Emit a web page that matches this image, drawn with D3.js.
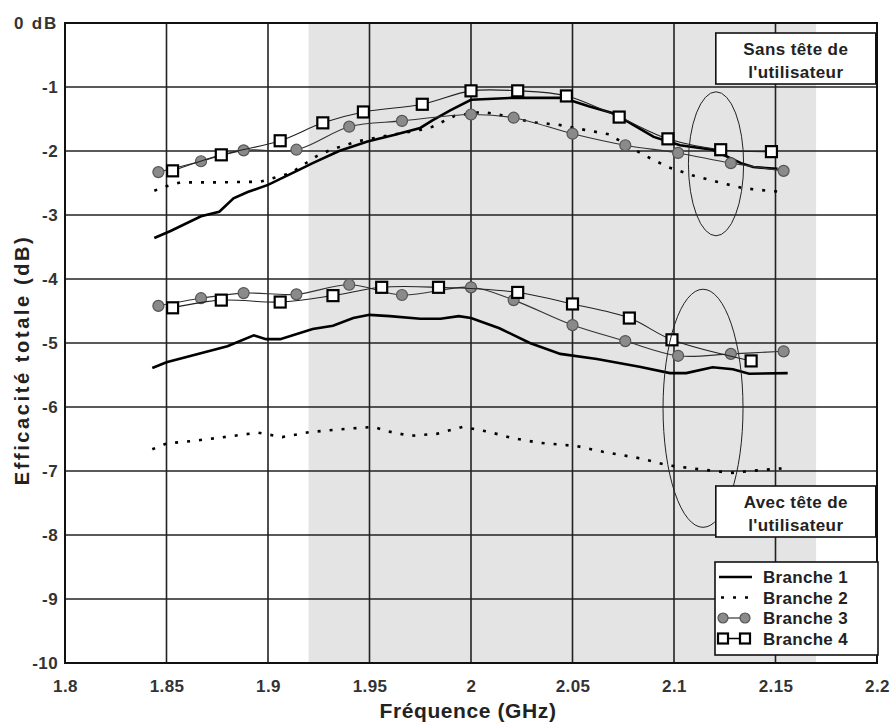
<!DOCTYPE html>
<html><head><meta charset="utf-8">
<script src="https://cdn.jsdelivr.net/npm/d3@7/dist/d3.min.js"></script>
<style>body{margin:0;background:#fff}svg{display:block;font-family:"Liberation Sans",Arial,sans-serif}</style>
</head><body><svg id="c" width="895" height="725"></svg>
<script>
// ---- data ----
const xTicks = [1.8,1.85,1.9,1.95,2,2.05,2.1,2.15,2.2];
const xTickLabels = ["1.8","1.85","1.9","1.95","2","2.05","2.1","2.15","2.2"];
const yTicks = [0,-1,-2,-3,-4,-5,-6,-7,-8,-9,-10];
const yTickLabels = ["0 dB","-1","-2","-3","-4","-5","-6","-7","-8","-9","-10"];
const bandRange = [1.92, 2.17];
const seriesNames = ["Branche 1","Branche 2","Branche 3","Branche 4"];

// Sans tête de l'utilisateur
const b1Free = [[1.844,-3.36],[1.852,-3.25],[1.867,-3.02],[1.876,-2.95],[1.883,-2.74],[1.89,-2.64],[1.9,-2.53],[1.915,-2.3],[1.922,-2.19],[1.935,-2.0],[1.949,-1.85],[1.962,-1.75],[1.975,-1.64],[1.981,-1.52],[1.99,-1.36],[2.0,-1.2],[2.02,-1.17],[2.045,-1.17],[2.058,-1.3],[2.07,-1.41],[2.09,-1.78],[2.103,-1.91],[2.119,-1.98],[2.133,-2.19],[2.139,-2.25],[2.151,-2.28]];
const b2Free = [[1.844,-2.62],[1.85,-2.55],[1.857,-2.49],[1.875,-2.49],[1.896,-2.48],[1.911,-2.35],[1.924,-2.08],[1.931,-1.98],[1.944,-1.85],[1.955,-1.78],[1.975,-1.67],[1.981,-1.62],[1.992,-1.45],[2.005,-1.39],[2.012,-1.42],[2.03,-1.55],[2.043,-1.59],[2.056,-1.67],[2.068,-1.74],[2.085,-2.06],[2.097,-2.25],[2.109,-2.38],[2.121,-2.48],[2.134,-2.58],[2.146,-2.62],[2.153,-2.64]];
const b3Free = [[1.846,-2.33],[1.867,-2.16],[1.888,-1.99],[1.914,-1.98],[1.940,-1.62],[1.966,-1.53],[2.0,-1.43],[2.021,-1.48],[2.05,-1.73],[2.076,-1.91],[2.102,-2.03],[2.128,-2.19],[2.154,-2.31]];
const b4Free = [[1.853,-2.31],[1.877,-2.06],[1.906,-1.84],[1.927,-1.56],[1.947,-1.39],[1.976,-1.27],[2.0,-1.06],[2.023,-1.06],[2.047,-1.14],[2.073,-1.47],[2.097,-1.81],[2.123,-1.98],[2.148,-2.01]];

// Avec tête de l'utilisateur
const b1Head = [[1.843,-5.39],[1.85,-5.3],[1.88,-5.05],[1.893,-4.88],[1.899,-4.94],[1.906,-4.94],[1.922,-4.78],[1.932,-4.73],[1.942,-4.61],[1.95,-4.56],[1.96,-4.58],[1.975,-4.62],[1.985,-4.62],[1.994,-4.58],[2.0,-4.61],[2.014,-4.77],[2.029,-5.0],[2.044,-5.17],[2.062,-5.25],[2.083,-5.37],[2.098,-5.47],[2.106,-5.47],[2.119,-5.38],[2.129,-5.41],[2.137,-5.48],[2.156,-5.47]];
const b2Head = [[1.843,-6.66],[1.85,-6.57],[1.863,-6.53],[1.876,-6.48],[1.895,-6.4],[1.907,-6.47],[1.921,-6.39],[1.939,-6.34],[1.952,-6.31],[1.959,-6.38],[1.97,-6.45],[1.983,-6.42],[1.996,-6.31],[2.009,-6.39],[2.021,-6.49],[2.034,-6.56],[2.052,-6.61],[2.065,-6.7],[2.083,-6.8],[2.097,-6.91],[2.109,-6.96],[2.128,-7.03],[2.141,-6.99],[2.153,-6.96]];
const b3Head = [[1.846,-4.42],[1.867,-4.30],[1.888,-4.22],[1.914,-4.24],[1.940,-4.09],[1.966,-4.25],[2.0,-4.13],[2.021,-4.33],[2.05,-4.72],[2.076,-4.97],[2.102,-5.20],[2.128,-5.17],[2.154,-5.13]];
const b4Head = [[1.853,-4.45],[1.877,-4.33],[1.906,-4.36],[1.932,-4.26],[1.956,-4.13],[1.984,-4.13],[2.023,-4.21],[2.05,-4.39],[2.078,-4.61],[2.099,-4.95],[2.138,-5.28]];

const annotations = [
  {lines:["Sans tête de","l'utilisateur"], x:2.160, y:-0.297},
  {lines:["Avec tête de","l'utilisateur"], x:2.160, y:-7.375}
];
const ellipses = [ {cx:2.1207, cy:-2.2, rx:0.0136, ry:1.125}, {cx:2.1143, cy:-6.02, rx:0.0197, ry:1.86} ];

// ---- drawing ----
const svg = d3.select("#c");
const m = {l:65, r:877, t:23, b:663};
const x = d3.scaleLinear().domain([1.8,2.2]).range([m.l,m.r]);
const y = d3.scaleLinear().domain([-10,0]).range([m.b,m.t]);

svg.append("rect").attr("x",x(bandRange[0])).attr("y",m.t).attr("width",x(bandRange[1])-x(bandRange[0])).attr("height",m.b-m.t).attr("fill","#e4e4e4");

// grid
svg.append("g").selectAll("line").data(xTicks.slice(1,-1)).join("line")
  .attr("x1",d=>x(d)).attr("x2",d=>x(d)).attr("y1",m.t).attr("y2",m.b).attr("stroke","#222").attr("stroke-width",1.6);
svg.append("g").selectAll("line").data(yTicks.slice(1,-1)).join("line")
  .attr("y1",d=>y(d)).attr("y2",d=>y(d)).attr("x1",m.l).attr("x2",m.r).attr("stroke","#222").attr("stroke-width",1.6);
svg.append("rect").attr("x",m.l).attr("y",m.t).attr("width",m.r-m.l).attr("height",m.b-m.t).attr("fill","none").attr("stroke","#111").attr("stroke-width",2);

// axes labels via d3 axes
const xa = svg.append("g").attr("transform",`translate(0,${m.b})`)
  .call(d3.axisBottom(x).tickValues(xTicks).tickFormat((d,i)=>xTickLabels[i]).tickSize(0).tickPadding(17));
const ya = svg.append("g").attr("transform",`translate(${m.l},0)`)
  .call(d3.axisLeft(y).tickValues(yTicks).tickFormat((d,i)=>yTickLabels[i]).tickSize(0).tickPadding(7));
[xa,ya].forEach(a=>{a.select(".domain").remove();a.selectAll("text").attr("font-size",17).attr("letter-spacing",0.4).attr("font-weight","bold").attr("fill","#333").attr("font-family","Liberation Sans, Arial, sans-serif");});
ya.selectAll("text").filter((d,i)=>i===0).attr("letter-spacing",1.8);

svg.append("text").attr("x",468).attr("y",718).attr("text-anchor","middle").attr("font-size",21).attr("letter-spacing",0.6).attr("font-weight","bold").attr("fill","#222").text("Fréquence (GHz)");
svg.append("text").attr("transform","translate(29,360) rotate(-90)").attr("text-anchor","middle").attr("font-size",20).attr("letter-spacing",2.6).attr("font-weight","bold").attr("fill","#222").text("Efficacité totale (dB)");

const lineLin = d3.line().x(d=>x(d[0])).y(d=>y(d[1]));
const lineSm = d3.line().x(d=>x(d[0])).y(d=>y(d[1])).curve(d3.curveCatmullRom.alpha(0.5));

function drawB1(data){ svg.append("path").attr("d",lineLin(data)).attr("fill","none").attr("stroke","#000").attr("stroke-width",2.6); }
function drawB2(data){ svg.append("path").attr("d",lineLin(data)).attr("fill","none").attr("stroke","#000").attr("stroke-width",2.6).attr("stroke-dasharray","3,9"); }
function drawB3(data){
  svg.append("path").attr("d",lineSm(data)).attr("fill","none").attr("stroke","#333").attr("stroke-width",1.1);
  svg.append("g").selectAll("circle").data(data).join("circle").attr("cx",d=>x(d[0])).attr("cy",d=>y(d[1])).attr("r",5.5).attr("fill","#8a8a8a").attr("stroke","#555").attr("stroke-width",1.2);
}
function drawB4(data){
  svg.append("path").attr("d",lineSm(data)).attr("fill","none").attr("stroke","#222").attr("stroke-width",1.1);
  svg.append("g").selectAll("rect").data(data).join("rect").attr("x",d=>x(d[0])-5.5).attr("y",d=>y(d[1])-5.5).attr("width",11).attr("height",11).attr("fill","#fff").attr("stroke","#000").attr("stroke-width",2.2);
}
drawB2(b2Free); drawB2(b2Head);
drawB1(b1Free); drawB1(b1Head);
drawB3(b3Free); drawB3(b3Head);
drawB4(b4Free); drawB4(b4Head);

// ellipses
svg.append("g").selectAll("ellipse").data(ellipses).join("ellipse")
  .attr("cx",d=>x(d.cx)).attr("cy",d=>y(d.cy)).attr("rx",d=>x(d.cx+d.rx)-x(d.cx)).attr("ry",d=>y(d.cy-d.ry)-y(d.cy))
  .attr("fill","none").attr("stroke","#222").attr("stroke-width",1);

// annotation boxes
annotations.forEach(a=>{
  const cx = x(a.x), ty = y(a.y);
  svg.append("rect").attr("x",cx-80).attr("y",ty-9).attr("width",160).attr("height",51).attr("fill","#fff").attr("stroke","#111").attr("stroke-width",1.6);
  a.lines.forEach((t,i)=>svg.append("text").attr("x",cx).attr("y",ty+13+i*23).attr("text-anchor","middle").attr("font-size",17).attr("font-weight","bold").attr("letter-spacing",0.4).attr("fill","#222").text(t));
});

// legend
const lg = svg.append("g").attr("transform","translate(715,562)");
lg.append("rect").attr("width",163).attr("height",93).attr("fill","#fff").attr("stroke","#111").attr("stroke-width",1.6);
seriesNames.forEach((n,i)=>{
  const yy = 15 + i*20.5;
  const g = lg.append("g");
  if(i===0) g.append("line").attr("x1",4).attr("x2",37).attr("y1",yy).attr("y2",yy).attr("stroke","#000").attr("stroke-width",2.6);
  if(i===1) g.append("line").attr("x1",4).attr("x2",37).attr("y1",yy).attr("y2",yy).attr("stroke","#000").attr("stroke-width",2.6).attr("stroke-dasharray","3,9").attr("stroke-dashoffset",-2);
  if(i===2){ g.append("line").attr("x1",8).attr("x2",30).attr("y1",yy).attr("y2",yy).attr("stroke","#333").attr("stroke-width",1.2);
    [8,30].forEach(cx=>g.append("circle").attr("cx",cx).attr("cy",yy).attr("r",5).attr("fill","#8a8a8a").attr("stroke","#555").attr("stroke-width",1.2)); }
  if(i===3){ g.append("line").attr("x1",8).attr("x2",30).attr("y1",yy).attr("y2",yy).attr("stroke","#000").attr("stroke-width",1.5);
    [8,30].forEach(cx=>g.append("rect").attr("x",cx-5).attr("y",yy-5).attr("width",10).attr("height",10).attr("fill","#fff").attr("stroke","#000").attr("stroke-width",2.2)); }
  g.append("text").attr("x",48).attr("y",yy+6).attr("font-size",17).attr("font-weight","bold").attr("letter-spacing",0.3).attr("fill","#222").text(n);
});
</script></body></html>
